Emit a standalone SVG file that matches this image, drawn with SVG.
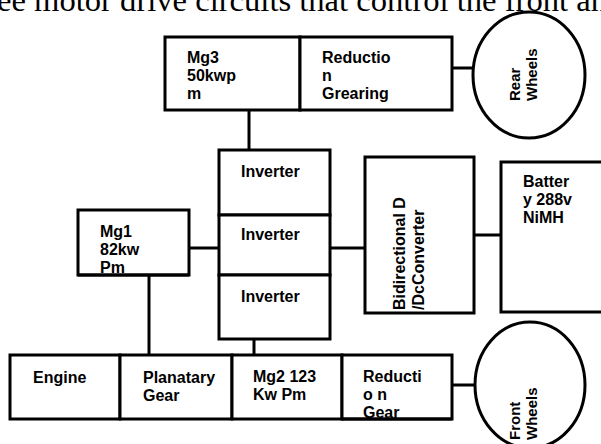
<svg xmlns="http://www.w3.org/2000/svg" width="601" height="444" viewBox="0 0 601 444">
<style>
.box{fill:#fff;stroke:#000;stroke-width:3}
.wheel{fill:#fff;stroke:#000;stroke-width:3}
.lbl{font-family:"Liberation Sans",Arial,sans-serif;font-weight:bold;font-size:16px;fill:#000}
.wl{font-family:"Liberation Sans",Arial,sans-serif;font-weight:bold;font-size:15px;fill:#000}
.conn{stroke:#000;stroke-width:3;fill:none}
.cap{font-family:"Liberation Serif","Times New Roman",serif;font-size:31px;fill:#000}
</style>
<rect width="601" height="444" fill="#fff"/>
<text class="cap" x="-3" y="11" textLength="610" lengthAdjust="spacingAndGlyphs">ee motor drive circuits that control the front an</text>
<g id="connectors">
<line class="conn" x1="249" y1="110" x2="249" y2="150"/>
<line class="conn" x1="189" y1="248" x2="219" y2="248"/>
<line class="conn" x1="330" y1="248" x2="365" y2="248"/>
<line class="conn" x1="474" y1="235" x2="501" y2="235"/>
<line class="conn" x1="149" y1="275" x2="149" y2="355"/>
<line class="conn" x1="254" y1="339" x2="254" y2="355"/>
<line class="conn" x1="452" y1="68" x2="474" y2="68"/>
<line class="conn" x1="452" y1="385" x2="476" y2="385"/>
</g>
<g id="mg3">
<rect class="box" x="165" y="37" width="135" height="73"/>
<text class="lbl" x="187" y="63">Mg3</text>
<text class="lbl" x="187" y="81">50kwp</text>
<text class="lbl" x="187" y="99">m</text>
</g>
<g id="reduction-rear">
<rect class="box" x="300" y="37" width="152" height="73"/>
<text class="lbl" x="322" y="63">Reductio</text>
<text class="lbl" x="322" y="81">n</text>
<text class="lbl" x="322" y="99">Grearing</text>
</g>
<g id="rear-wheels">
<ellipse class="wheel" cx="529" cy="75" rx="56" ry="63"/>
<text class="wl" transform="translate(520,101) rotate(-90)">Rear</text>
<text class="wl" transform="translate(537,101) rotate(-90)">Wheels</text>
</g>
<g id="inverter1">
<rect class="box" x="219" y="150" width="111" height="65"/>
<text class="lbl" x="241" y="177">Inverter</text>
</g>
<g id="inverter2">
<rect class="box" x="219" y="215" width="111" height="60"/>
<text class="lbl" x="241" y="240">Inverter</text>
</g>
<g id="inverter3">
<rect class="box" x="219" y="275" width="111" height="64"/>
<text class="lbl" x="241" y="302">Inverter</text>
</g>
<g id="mg1">
<rect class="box" x="78" y="210" width="111" height="65"/>
<text class="lbl" x="100" y="237">Mg1</text>
<text class="lbl" x="100" y="255">82kw</text>
<text class="lbl" x="100" y="273">Pm</text>
<line class="conn" x1="78" y1="275" x2="189" y2="275"/>
</g>
<g id="dcdc">
<rect class="box" x="365" y="157" width="109" height="156"/>
<text class="lbl" transform="translate(405,310) rotate(-90)">Bidirectional D</text>
<text class="lbl" transform="translate(424,310) rotate(-90)">/DcConverter</text>
</g>
<g id="battery">
<rect class="box" x="501" y="162" width="110" height="150"/>
<text class="lbl" x="523" y="187">Batter</text>
<text class="lbl" x="523" y="205">y 288v</text>
<text class="lbl" x="523" y="223">NiMH</text>
</g>
<g id="engine">
<rect class="box" x="10" y="355" width="110" height="64"/>
<text class="lbl" x="33" y="383">Engine</text>
</g>
<g id="planetary">
<rect class="box" x="120" y="355" width="112" height="64"/>
<text class="lbl" x="143" y="383">Planatary</text>
<text class="lbl" x="143" y="401">Gear</text>
</g>
<g id="mg2">
<rect class="box" x="232" y="355" width="110" height="64"/>
<text class="lbl" x="253" y="382">Mg2 123</text>
<text class="lbl" x="253" y="400">Kw Pm</text>
</g>
<g id="reduction-front">
<rect class="box" x="342" y="355" width="110" height="64"/>
<text class="lbl" x="363" y="382">Reducti</text>
<text class="lbl" x="363" y="400">o n</text>
<text class="lbl" x="363" y="418">Gear</text>
<line class="conn" x1="342" y1="419" x2="452" y2="419"/>
</g>
<g id="front-wheels">
<ellipse class="wheel" cx="530" cy="385" rx="55" ry="63"/>
<text class="wl" transform="translate(520,440) rotate(-90)">Front</text>
<text class="wl" transform="translate(537,440) rotate(-90)">Wheels</text>
</g>
</svg>
